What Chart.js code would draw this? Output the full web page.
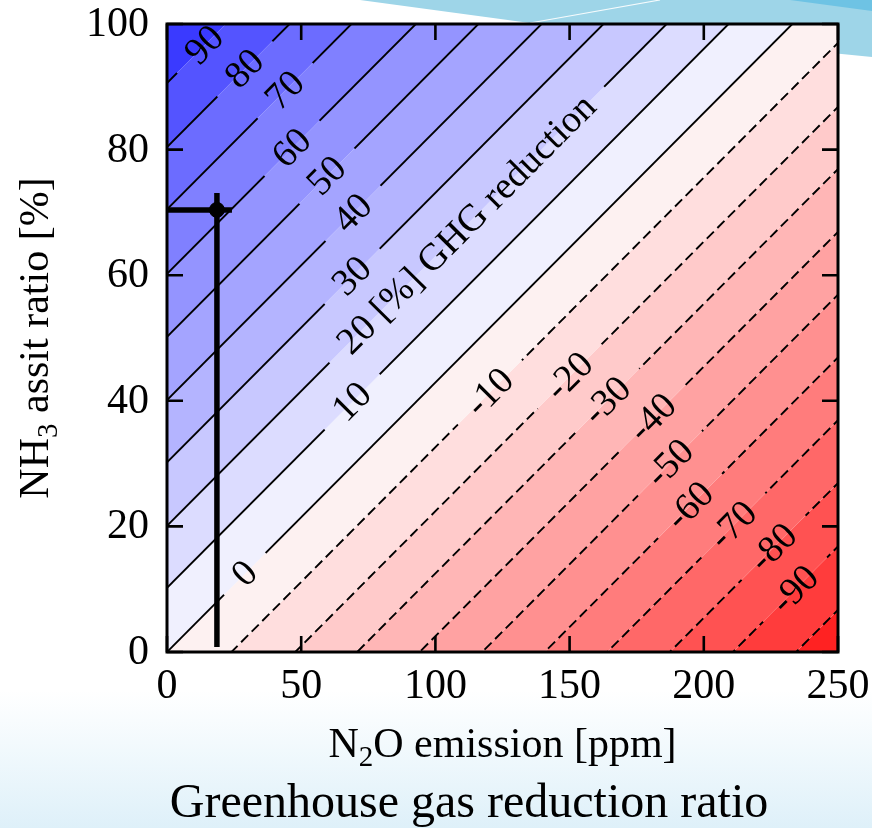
<!DOCTYPE html>
<html>
<head>
<meta charset="utf-8">
<script src="https://cdn.jsdelivr.net/npm/chart.js@4.4.1/dist/chart.umd.min.js"></script>
<style>
  html, body { margin: 0; padding: 0; background: #fff; overflow: hidden; }
  canvas { display: block; }
</style>
</head>
<body>
<canvas id="ghg" width="872" height="828"></canvas>
<script>
// Axis ranges and ticks
const xRange = [0, 250];          // N2O emission [ppm]
const yRange = [0, 100];          // NH3 assist ratio [%]
const xTicks = [0, 50, 100, 150, 200, 250];
const yTicks = [0, 20, 40, 60, 80, 100];

// Contour levels of GHG reduction [%]
const levels = [90, 80, 70, 60, 50, 40, 30, 20, 10, 0, -10, -20, -30, -40, -50, -60, -70, -80, -90, -100];
// NH3 assist ratio of each contour at N2O = 0 ppm and at N2O = 250 ppm
const yAtMinX = [90.6, 80.4, 70.5, 60.2, 50.2, 40.1, 30.2, 20.1, 10.2, 0, -10.3, -20.5, -30.4, -40.4, -50.4, -60.4, -70.4, -80.4, -90.5, -100.6];
const yAtMaxX = [197.9, 187.7, 177.8, 167.5, 157.5, 147.4, 137.5, 127.4, 117.5, 107.3, 97.0, 86.8, 76.9, 66.9, 56.9, 46.9, 36.9, 26.9, 16.8, 6.7];

// Fill colour of each band: above 90, 80-90, ..., -90 to -100, below -100
const bandColors = [
  'rgb(58,58,255)', 'rgb(84,84,255)', 'rgb(108,108,255)', 'rgb(128,128,255)', 'rgb(148,148,255)',
  'rgb(164,164,255)', 'rgb(180,180,255)', 'rgb(200,200,255)', 'rgb(220,220,255)', 'rgb(240,240,254)',
  'rgb(253,241,241)', 'rgb(255,222,222)', 'rgb(255,202,202)', 'rgb(255,182,182)', 'rgb(255,162,162)',
  'rgb(255,144,144)', 'rgb(255,124,124)', 'rgb(255,104,104)', 'rgb(255,82,82)', 'rgb(255,60,60)',
  'rgb(255,34,34)'
];

// In-line contour labels: level, position along the N2O axis, text
const labelLevels = [90, 80, 70, 60, 50, 40, 30, 20, 10, 0, -10, -20, -30, -40, -50, -60, -70, -80, -90];
const labelX = [14, 29, 44, 46.6, 59.6, 69.3, 69, 111.7, 69, 29, 120.3, 150, 164, 181, 187.4, 194.9, 211, 226, 234];
const labelText = ['90', '80', '70', '60', '50', '40', '30', '20 [%] GHG reduction', '10', '0',
  '-10', '-20', '-30', '-40', '-50', '-60', '-70', '-80', '-90'];

// Operating point with its guide lines
const pointN2O = [18.6];
const pointNH3 = [70.4];
const guideNH3Span = [0.8, 73.1];   // vertical guide at the point's N2O value
const guideN2OSpan = [0, 24.2];     // horizontal guide at the point's NH3 value

const FONT = '"Liberation Serif", "Times New Roman", serif';
const LABEL_SIZE = 38;
const LABEL_PAD = 20;

// ---- datasets ----
const datasets = [];
levels.forEach((lv, k) => {
  datasets.push({
    label: 'R = ' + lv,
    data: [{ x: xRange[0], y: yAtMinX[k] }, { x: xRange[1], y: yAtMaxX[k] }],
    borderColor: '#000',
    borderWidth: 1.9,
    borderDash: lv < 0 ? [10, 5] : [],
    pointRadius: 0,
    backgroundColor: bandColors[k],
    fill: k === 0 ? 'end' : '-1'
  });
});
// band below the lowest contour
datasets.push({
  label: 'below',
  data: [{ x: xRange[0], y: yAtMinX[levels.length - 1] }, { x: xRange[1], y: yAtMaxX[levels.length - 1] }],
  borderWidth: 0,
  borderColor: 'rgba(0,0,0,0)',
  pointRadius: 0,
  backgroundColor: bandColors[levels.length],
  fill: 'start'
});
datasets.push({
  label: 'guide-v',
  data: [{ x: pointN2O[0], y: guideNH3Span[0] }, { x: pointN2O[0], y: guideNH3Span[1] }],
  borderColor: '#000', borderWidth: 5.5, pointRadius: 0, fill: false, order: -2
});
datasets.push({
  label: 'guide-h',
  data: [{ x: guideN2OSpan[0], y: pointNH3[0] }, { x: guideN2OSpan[1], y: pointNH3[0] }],
  borderColor: '#000', borderWidth: 5.5, pointRadius: 0, fill: false, order: -2
});
datasets.push({
  label: 'point',
  data: [{ x: pointN2O[0], y: pointNH3[0] }],
  showLine: false, pointRadius: 7.5, pointBackgroundColor: '#000', pointBorderColor: '#000',
  fill: false, order: -3
});

// ---- helpers ----
function lineEnds(chart, k) {
  const xs = chart.scales.x, ys = chart.scales.y;
  return [xs.getPixelForValue(xRange[0]), ys.getPixelForValue(yAtMinX[k]),
          xs.getPixelForValue(xRange[1]), ys.getPixelForValue(yAtMaxX[k])];
}

function labelGeom(chart, j) {
  const k = levels.indexOf(labelLevels[j]);
  const t = (labelX[j] - xRange[0]) / (xRange[1] - xRange[0]);
  const yv = yAtMinX[k] + (yAtMaxX[k] - yAtMinX[k]) * t;
  const e = lineEnds(chart, k);
  const ctx = chart.ctx;
  ctx.save();
  ctx.font = LABEL_SIZE + 'px ' + FONT;
  const w = ctx.measureText(labelText[j]).width;
  ctx.restore();
  return {
    cx: chart.scales.x.getPixelForValue(labelX[j]),
    cy: chart.scales.y.getPixelForValue(yv),
    angle: Math.atan2(e[3] - e[1], e[2] - e[0]),
    w: w
  };
}

// draws text made of normal and subscript pieces
function drawRich(ctx, parts, x, y, size, align) {
  const subSize = Math.round(size * 0.7);
  let total = 0;
  const widths = parts.map(p => {
    ctx.font = (p.sub ? subSize : size) + 'px ' + FONT;
    const w = ctx.measureText(p.t).width;
    total += w;
    return w;
  });
  let cx = align === 'center' ? x - total / 2 : (align === 'right' ? x - total : x);
  ctx.textAlign = 'left';
  ctx.textBaseline = 'alphabetic';
  parts.forEach((p, i) => {
    ctx.font = (p.sub ? subSize : size) + 'px ' + FONT;
    ctx.fillText(p.t, cx, p.sub ? y + size * 0.22 : y);
    cx += widths[i];
  });
}

const decorPlugin = {
  id: 'decor',
  beforeDraw(chart) {
    const ctx = chart.ctx, W = chart.width, H = chart.height;
    ctx.save();
    ctx.fillStyle = '#ffffff';
    ctx.fillRect(0, 0, W, H);
    const g = ctx.createLinearGradient(0, 690, 0, H);
    g.addColorStop(0, 'rgba(224,242,250,0)');
    g.addColorStop(1, 'rgb(222,240,249)');
    ctx.fillStyle = g;
    ctx.fillRect(0, 690, W, H - 690);
    // slide ribbon at the top right
    ctx.fillStyle = 'rgb(158,213,232)';
    ctx.beginPath();
    ctx.moveTo(360, 0); ctx.lineTo(W, 0); ctx.lineTo(W, 57); ctx.lineTo(530, 23);
    ctx.closePath(); ctx.fill();
    ctx.fillStyle = 'rgb(110,195,228)';
    ctx.beginPath();
    ctx.moveTo(790, 0); ctx.lineTo(W, 0); ctx.lineTo(W, 11);
    ctx.closePath(); ctx.fill();
    ctx.strokeStyle = 'rgba(255,255,255,0.9)';
    ctx.lineWidth = 1.2;
    ctx.beginPath(); ctx.moveTo(530, 23); ctx.lineTo(660, 0); ctx.stroke();
    ctx.restore();
  },
  beforeDatasetDraw(chart, args) {
    const k = args.index;
    if (k >= levels.length) return;
    const ctx = chart.ctx;
    ctx.save();
    ctx.beginPath();
    ctx.rect(0, 0, chart.width, chart.height);
    labelLevels.forEach((lv, j) => {
      if (lv !== levels[k]) return;
      const g = labelGeom(chart, j);
      const hw = g.w / 2 + LABEL_PAD, hh = 12;
      const c = Math.cos(g.angle), s = Math.sin(g.angle);
      const pts = [[-hw, -hh], [hw, -hh], [hw, hh], [-hw, hh]]
        .map(([u, v]) => [g.cx + u * c - v * s, g.cy + u * s + v * c]);
      ctx.moveTo(pts[0][0], pts[0][1]);
      for (let i = 1; i < 4; i++) ctx.lineTo(pts[i][0], pts[i][1]);
      ctx.closePath();
    });
    ctx.clip('evenodd');
  },
  afterDatasetDraw(chart, args) {
    if (args.index < levels.length) chart.ctx.restore();
  },
  afterDatasetsDraw(chart) {
    const ctx = chart.ctx, a = chart.chartArea;
    const xs = chart.scales.x, ys = chart.scales.y;
    ctx.save();
    // contour labels
    ctx.fillStyle = '#000';
    ctx.font = LABEL_SIZE + 'px ' + FONT;
    ctx.textAlign = 'center';
    ctx.textBaseline = 'middle';
    labelText.forEach((txt, j) => {
      const g = labelGeom(chart, j);
      ctx.save();
      ctx.translate(g.cx, g.cy);
      ctx.rotate(g.angle);
      ctx.fillText(txt, 0, 1);
      ctx.restore();
    });
    // frame and inward ticks on all sides
    ctx.strokeStyle = '#000';
    ctx.lineWidth = 2.6;
    const TL = 16;
    ctx.beginPath();
    xTicks.forEach(v => {
      const p = xs.getPixelForValue(v);
      ctx.moveTo(p, a.bottom); ctx.lineTo(p, a.bottom - TL);
      ctx.moveTo(p, a.top); ctx.lineTo(p, a.top + TL);
    });
    yTicks.forEach(v => {
      const p = ys.getPixelForValue(v);
      ctx.moveTo(a.left, p); ctx.lineTo(a.left + TL, p);
      ctx.moveTo(a.right, p); ctx.lineTo(a.right - TL, p);
    });
    ctx.stroke();
    ctx.lineWidth = 3;
    ctx.strokeRect(a.left, a.top, a.right - a.left, a.bottom - a.top);
    // tick labels
    ctx.fillStyle = '#000';
    ctx.font = '42px ' + FONT;
    ctx.textAlign = 'center';
    ctx.textBaseline = 'alphabetic';
    xTicks.forEach(v => ctx.fillText(String(v), xs.getPixelForValue(v), 698));
    ctx.textAlign = 'right';
    ctx.textBaseline = 'middle';
    yTicks.forEach(v => ctx.fillText(String(v), a.left - 18, ys.getPixelForValue(v) + 1));
    // axis titles
    drawRich(ctx, [{ t: 'N' }, { t: '2', sub: true }, { t: 'O emission [ppm]' }],
      (a.left + a.right) / 2, 757, 42, 'center');
    ctx.save();
    ctx.translate(48, (a.top + a.bottom) / 2);
    ctx.rotate(-Math.PI / 2);
    drawRich(ctx, [{ t: 'NH' }, { t: '3', sub: true }, { t: ' assit ratio [%]' }], 0, 0, 42, 'center');
    ctx.restore();
    // caption
    ctx.font = '48px ' + FONT;
    ctx.textAlign = 'center';
    ctx.textBaseline = 'alphabetic';
    ctx.fillText('Greenhouse gas reduction ratio', 469, 817);
    ctx.restore();
  }
};

new Chart(document.getElementById('ghg'), {
  type: 'line',
  data: { datasets: datasets },
  options: {
    responsive: false,
    animation: false,
    devicePixelRatio: 1,
    layout: { padding: { left: 167, top: 24, right: 34, bottom: 176 } },
    scales: {
      x: { type: 'linear', min: xRange[0], max: xRange[1], display: false },
      y: { type: 'linear', min: yRange[0], max: yRange[1], display: false }
    },
    plugins: {
      legend: { display: false },
      tooltip: { enabled: false },
      filler: { drawTime: 'beforeDatasetsDraw', propagate: false }
    }
  },
  plugins: [decorPlugin]
});
</script>
</body>
</html>
